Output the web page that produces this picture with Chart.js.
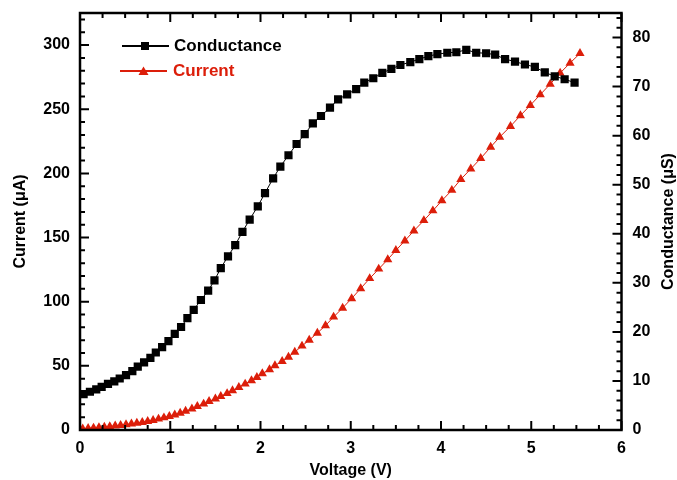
<!DOCTYPE html>
<html>
<head>
<meta charset="utf-8">
<title>Current and conductance vs voltage</title>
<script src="https://cdn.jsdelivr.net/npm/chart.js"></script>
<style>
  html, body { margin: 0; padding: 0; background: #fff; }
  #wrap { width: 677px; height: 480px; }
</style>
</head>
<body>
<div id="wrap"><canvas id="iv-chart" width="677" height="480"></canvas></div>
<script>
// values
const currentVoltage = [
  0.03, 0.09, 0.15, 0.21, 0.27, 0.33, 0.39, 0.45, 0.51, 0.57,
  0.63, 0.69, 0.75, 0.81, 0.87, 0.93, 0.99, 1.05, 1.11, 1.17,
  1.24, 1.30, 1.37, 1.43, 1.50, 1.56, 1.63, 1.69, 1.76, 1.83,
  1.90, 1.96, 2.02, 2.10, 2.16, 2.24, 2.31, 2.38, 2.46, 2.54,
  2.63, 2.72, 2.81, 2.91, 3.01, 3.11, 3.21, 3.31, 3.41, 3.50,
  3.60, 3.70, 3.81, 3.91, 4.01, 4.12, 4.22, 4.33, 4.44, 4.55,
  4.65, 4.77, 4.88, 4.99, 5.10, 5.21, 5.32, 5.43, 5.54
];
const currentValues = [
  0.9, 1.3, 1.6, 2.0, 2.3, 2.7, 3.2, 3.7, 4.2, 4.8,
  5.4, 6.0, 6.8, 7.6, 8.6, 9.6, 10.7, 11.8, 13.2, 14.7,
  16.5, 18.4, 20.3, 22.3, 24.3, 26.3, 28.5, 30.8, 33.3, 35.9,
  38.5, 41.1, 44.0, 47.1, 50.2, 53.5, 56.9, 60.8, 65.5, 70.1,
  75.6, 81.4, 88.1, 95.1, 102.5, 110.3, 118.1, 125.5, 132.9, 140.0,
  147.5, 155.3, 163.3, 170.9, 178.8, 186.9, 195.4, 203.5, 211.7, 220.5,
  228.3, 236.7, 245.1, 253.1, 261.4, 269.6, 278.2, 286.0, 293.5
];
const conductanceVoltage = [
  0.04, 0.11, 0.18, 0.24, 0.31, 0.38, 0.44, 0.51, 0.58, 0.64,
  0.71, 0.78, 0.84, 0.91, 0.98, 1.05, 1.12, 1.19, 1.26, 1.34,
  1.42, 1.49, 1.56, 1.64, 1.72, 1.80, 1.88, 1.97, 2.05, 2.14,
  2.22, 2.31, 2.40, 2.49, 2.58, 2.67, 2.77, 2.86, 2.96, 3.06,
  3.15, 3.25, 3.35, 3.45, 3.55, 3.66, 3.76, 3.86, 3.96, 4.07,
  4.17, 4.28, 4.39, 4.50, 4.60, 4.71, 4.82, 4.93, 5.04, 5.15,
  5.26, 5.37, 5.48
];
const conductanceValues = [
  7.3, 7.8, 8.3, 8.8, 9.4, 9.9, 10.5, 11.2, 12.0, 12.9,
  13.8, 14.7, 15.8, 16.9, 18.1, 19.6, 21.0, 22.8, 24.5, 26.5,
  28.4, 30.5, 33.0, 35.4, 37.7, 40.4, 42.9, 45.6, 48.3, 51.3,
  53.7, 56.0, 58.3, 60.3, 62.5, 64.0, 65.7, 67.4, 68.4, 69.5,
  70.8, 71.7, 72.8, 73.6, 74.4, 75.0, 75.6, 76.2, 76.6, 76.9,
  77.0, 77.5, 76.9, 76.8, 76.5, 75.6, 75.1, 74.5, 74.0, 72.9,
  72.1, 71.5, 70.8
];
const voltageTicks = [0, 1, 2, 3, 4, 5, 6];
const currentTicks = [0, 50, 100, 150, 200, 250, 300];
const conductanceTicks = [0, 10, 20, 30, 40, 50, 60, 70, 80];

const RED = '#dc1e0a';
const FONT = '"Liberation Sans", Arial, sans-serif';
const tickFont = { family: FONT, size: 16, weight: 'bold' };

function toPoints(xs, ys) {
  return xs.map((v, i) => ({ x: v, y: ys[i] }));
}

// fixed axis sizes so the plot box lands where the original one is
function fixSize(w, h) {
  return s => {
    if (w !== null) s.width = w;
    if (h !== null) s.height = h;
    s.paddingTop = 0; s.paddingBottom = 0;
    s.paddingLeft = 0; s.paddingRight = 0;
  };
}

// box round the plot, inward ticks on all four sides
const framePlugin = {
  id: 'frame',
  afterDatasetsDraw(chart) {
    const { ctx, chartArea: a, scales } = chart;
    ctx.save();
    ctx.strokeStyle = '#000';
    ctx.lineWidth = 2;
    ctx.beginPath();
    for (let i = 0; i <= 24; i++) {
      const px = scales.x.getPixelForValue(i / 4);
      const len = i % 4 === 0 ? 9 : 5;
      ctx.moveTo(px, a.bottom); ctx.lineTo(px, a.bottom - len);
      ctx.moveTo(px, a.top); ctx.lineTo(px, a.top + len);
    }
    for (let i = 0; i <= 32; i++) {
      const py = scales.y.getPixelForValue(i * 10);
      const len = i % 5 === 0 ? 9 : 5;
      ctx.moveTo(a.left, py); ctx.lineTo(a.left + len, py);
    }
    for (let i = 0; i <= 42; i++) {
      const py = scales.y2.getPixelForValue(i * 2);
      const len = i % 5 === 0 ? 9 : 5;
      ctx.moveTo(a.right, py); ctx.lineTo(a.right - len, py);
    }
    ctx.stroke();
    ctx.lineWidth = 2.5;
    ctx.strokeRect(a.left, a.top, a.right - a.left, a.bottom - a.top);
    ctx.restore();
  }
};

// Origin style legend and the right axis title, which reads bottom to top
const notesPlugin = {
  id: 'notes',
  afterDraw(chart) {
    const { ctx, chartArea: a } = chart;
    ctx.save();
    ctx.lineWidth = 2;
    ctx.strokeStyle = '#000';
    ctx.beginPath(); ctx.moveTo(122, 46); ctx.lineTo(169, 46); ctx.stroke();
    ctx.fillStyle = '#000';
    ctx.fillRect(141, 42, 8, 8);
    ctx.strokeStyle = RED;
    ctx.beginPath(); ctx.moveTo(120, 71); ctx.lineTo(167, 71); ctx.stroke();
    ctx.fillStyle = RED;
    ctx.beginPath();
    ctx.moveTo(143.5, 66.5); ctx.lineTo(148.5, 75); ctx.lineTo(138.5, 75);
    ctx.closePath(); ctx.fill();

    ctx.font = 'bold 17px ' + FONT;
    ctx.textBaseline = 'middle';
    ctx.textAlign = 'left';
    ctx.fillStyle = '#000';
    ctx.fillText('Conductance', 174, 46);
    ctx.fillStyle = RED;
    ctx.fillText('Current', 173, 71);

    ctx.font = 'bold 16px ' + FONT;
    ctx.fillStyle = '#000';
    ctx.textAlign = 'center';
    ctx.translate(668.5, (a.top + a.bottom) / 2);
    ctx.rotate(-Math.PI / 2);
    ctx.fillText('Conductance (μS)', 0, 0);
    ctx.restore();
  }
};

const ctx = document.getElementById('iv-chart');
new Chart(ctx, {
  type: 'scatter',
  data: {
    datasets: [{
      label: 'Conductance',
      data: toPoints(conductanceVoltage, conductanceValues),
      yAxisID: 'y2',
      showLine: true,
      borderColor: '#000',
      borderWidth: 1,
      backgroundColor: '#000',
      pointStyle: 'rect',
      pointRadius: 5.8,
      pointBorderWidth: 0,
      pointHoverRadius: 5.8
    }, {
      label: 'Current',
      data: toPoints(currentVoltage, currentValues),
      yAxisID: 'y',
      showLine: true,
      borderColor: RED,
      borderWidth: 1,
      backgroundColor: RED,
      pointStyle: 'triangle',
      pointRadius: 5.3,
      pointBorderWidth: 0,
      pointHoverRadius: 5.3
    }]
  },
  options: {
    responsive: false,
    devicePixelRatio: 1,
    animation: false,
    layout: { padding: { top: 13, left: 0, right: 0, bottom: 0 } },
    plugins: {
      legend: { display: false },
      tooltip: { enabled: false }
    },
    scales: {
      x: {
        type: 'linear',
        position: 'bottom',
        min: 0,
        max: 6,
        afterBuildTicks: s => { s.ticks = voltageTicks.map(v => ({ value: v })); },
        afterFit: fixSize(null, 50),
        grid: { display: false, drawTicks: false },
        border: { display: false },
        ticks: { padding: 9, color: '#000', font: tickFont, maxRotation: 0 },
        title: {
          display: true,
          text: 'Voltage (V)',
          color: '#000',
          font: tickFont,
          padding: { top: 0, bottom: 0 }
        }
      },
      y: {
        type: 'linear',
        position: 'left',
        min: 0,
        max: 325,
        afterBuildTicks: s => { s.ticks = currentTicks.map(v => ({ value: v })); },
        afterFit: fixSize(80, null),
        grid: { display: false, drawTicks: false },
        border: { display: false },
        ticks: { padding: 10, color: '#000', font: tickFont },
        title: {
          display: true,
          text: 'Current (μA)',
          color: '#000',
          font: tickFont,
          padding: { top: 11, bottom: 0 }
        }
      },
      y2: {
        type: 'linear',
        position: 'right',
        min: 0,
        max: 85,
        afterBuildTicks: s => { s.ticks = conductanceTicks.map(v => ({ value: v })); },
        afterFit: fixSize(55.5, null),
        grid: { display: false, drawTicks: false },
        border: { display: false },
        ticks: { padding: 11, color: '#000', font: tickFont }
      }
    }
  },
  plugins: [framePlugin, notesPlugin]
});
</script>
</body>
</html>
